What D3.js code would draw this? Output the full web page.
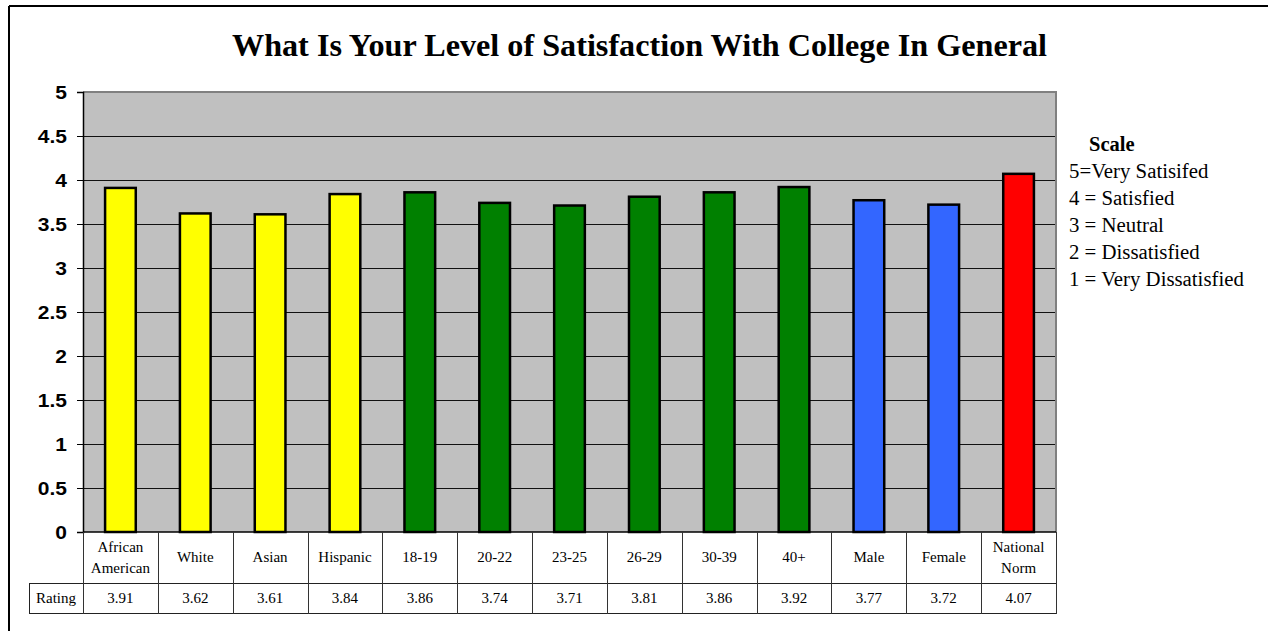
<!DOCTYPE html>
<html><head><meta charset="utf-8">
<script src="https://cdn.jsdelivr.net/npm/d3@7/dist/d3.min.js"></script>
<style>html,body{margin:0;padding:0;background:#fff;overflow:hidden}</style>
</head><body>
<svg id="c" width="1268" height="631"></svg>
<script>
const title = "What Is Your Level of Satisfaction With College In General";
const categories = ["African American","White","Asian","Hispanic","18-19","20-22","23-25","26-29","30-39","40+","Male","Female","National Norm"];
const ratings = [3.91,3.62,3.61,3.84,3.86,3.74,3.71,3.81,3.86,3.92,3.77,3.72,4.07];
const barColors = ["#FFFF00","#FFFF00","#FFFF00","#FFFF00","#008000","#008000","#008000","#008000","#008000","#008000","#3366FF","#3366FF","#FF0000"];
const yTicks = [0,0.5,1,1.5,2,2.5,3,3.5,4,4.5,5];
const rowLabel = "Rating";
const legendTitle = "Scale";
const legendLines = ["5=Very Satisifed","4 = Satisfied","3 = Neutral","2 = Dissatisfied","1 = Very Dissatisfied"];

const svg = d3.select("#c");
const L = 83, R = 1056, T = 92, B = 532;
const x = d3.scaleBand().domain(categories).range([L, R]).paddingInner(0).paddingOuter(0);
const y = d3.scaleLinear().domain([0,5]).range([B, T]);
const serif = "'Liberation Serif','Times New Roman',Times,serif";
const sans = "'Liberation Sans',Arial,Helvetica,sans-serif";

// outer frame
svg.append("line").attr("x1",9).attr("x2",1268).attr("y1",6).attr("y2",6).attr("stroke","#000").attr("stroke-width",2);
svg.append("line").attr("x1",9).attr("x2",9).attr("y1",6).attr("y2",631).attr("stroke","#000").attr("stroke-width",2);

// title
svg.append("text").attr("x",639.5).attr("y",56).attr("text-anchor","middle")
  .attr("font-family",serif).attr("font-weight","bold").attr("font-size",32.2).text(title);

// plot background
svg.append("rect").attr("x",L).attr("y",T).attr("width",R-L).attr("height",B-T).attr("fill","#C0C0C0");

// gridlines
svg.append("g").selectAll("line").data(yTicks.filter(d=>d>0 && d<5)).join("line")
  .attr("x1",L).attr("x2",R).attr("y1",d=>Math.round(y(d))+0.5).attr("y2",d=>Math.round(y(d))+0.5)
  .attr("stroke","#111").attr("stroke-width",1);

// plot border top/right gray
svg.append("path").attr("d",`M${L},${T} H${R} V${B}`).attr("fill","none").attr("stroke","#808080").attr("stroke-width",2);

// bars
const bw = x.bandwidth()*0.41;
svg.append("g").selectAll("rect").data(categories).join("rect")
  .attr("x",d=>x(d)+(x.bandwidth()-bw)/2).attr("width",bw)
  .attr("y",(d,i)=>y(ratings[i])).attr("height",(d,i)=>y(0)-y(ratings[i]))
  .attr("fill",(d,i)=>barColors[i]).attr("stroke","#000").attr("stroke-width",2.5);

// y axis
const yAxis = d3.axisLeft(y).tickValues(yTicks).tickSize(6).tickFormat(d=>d3.format("")(d));
const ga = svg.append("g").attr("transform",`translate(${L},0)`).call(yAxis);
ga.select(".domain").attr("stroke","#000").attr("stroke-width",1.5);
ga.selectAll(".tick line").attr("stroke","#000");
const sx = 1.2;
ga.selectAll(".tick text").attr("font-family",sans).attr("font-weight","bold").attr("font-size",17.5)
  .attr("fill","#000").attr("x",-16/sx).attr("dy","0.36em").attr("transform",`scale(${sx},1)`);

// data table
const tbl = svg.append("g");
const rowMid = 583, rowBot = 613, rateLeft = 29;
tbl.append("line").attr("x1",L).attr("x2",R).attr("y1",B).attr("y2",B).attr("stroke","#000").attr("stroke-width",1.5);
tbl.append("line").attr("x1",rateLeft).attr("x2",R).attr("y1",rowMid+0.5).attr("y2",rowMid+0.5).attr("stroke","#222");
tbl.append("line").attr("x1",rateLeft).attr("x2",R).attr("y1",rowBot+0.5).attr("y2",rowBot+0.5).attr("stroke","#222");
tbl.append("line").attr("x1",rateLeft+0.5).attr("x2",rateLeft+0.5).attr("y1",rowMid).attr("y2",rowBot+1).attr("stroke","#222");
const bounds = categories.map(d=>x(d)).concat([R]);
tbl.selectAll(".vl").data(bounds).join("line").attr("class","vl")
  .attr("x1",d=>Math.round(d)+0.5).attr("x2",d=>Math.round(d)+0.5).attr("y1",B).attr("y2",rowBot+1)
  .attr("stroke","#333").attr("stroke-width",1);

categories.forEach((c,i)=>{
  const cx = x(c)+x.bandwidth()/2;
  const parts = c.split(" ");
  const t = tbl.append("text").attr("text-anchor","middle").attr("font-family",serif).attr("font-size",15).attr("fill","#000");
  if(parts.length===1){
    t.append("tspan").attr("x",cx).attr("y",562).text(c);
  } else {
    t.append("tspan").attr("x",cx).attr("y",551.5).text(parts[0]);
    t.append("tspan").attr("x",cx).attr("y",573).text(parts.slice(1).join(" "));
  }
  tbl.append("text").attr("x",cx).attr("y",602.5).attr("text-anchor","middle").attr("font-family",serif)
    .attr("font-size",15).attr("fill","#000").text(d3.format(".2f")(ratings[i]));
});
tbl.append("text").attr("x",(rateLeft+L)/2).attr("y",603).attr("text-anchor","middle").attr("font-family",serif)
  .attr("font-size",15).attr("fill","#000").text(rowLabel);

// legend
const lg = svg.append("g");
lg.append("text").attr("x",1089).attr("y",151).attr("font-family",serif).attr("font-weight","bold").attr("font-size",20.5).text(legendTitle);
lg.selectAll(".li").data(legendLines).join("text").attr("class","li")
  .attr("x",1069).attr("y",(d,i)=>177.5+i*27.2).attr("font-family",serif).attr("font-size",20.8).text(d=>d);
</script>
</body></html>
